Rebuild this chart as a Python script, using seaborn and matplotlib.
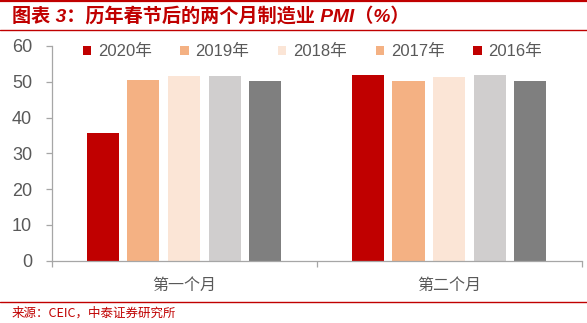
import matplotlib
matplotlib.use('Agg')
import matplotlib.pyplot as plt
import seaborn as sns
import pandas as pd
from matplotlib.patches import Patch
from matplotlib.lines import Line2D

# ---- data ----
months = ['第一个月', '第二个月']
years = ['2020年', '2019年', '2018年', '2017年', '2016年']
pmi_2020 = [35.7, 52.0]
pmi_2019 = [50.5, 50.1]
pmi_2018 = [51.5, 51.4]
pmi_2017 = [51.6, 51.8]
pmi_2016 = [50.2, 50.1]
yticks = [0, 10, 20, 30, 40, 50, 60]

bar_colors = ['#C00000', '#F4B183', '#FBE5D6', '#D0CECE', '#7F7F7F']
legend_colors = ['#C00000', '#F4B183', '#FBE5D6', '#F4B183', '#C00000']

series = [pmi_2020, pmi_2019, pmi_2018, pmi_2017, pmi_2016]
df = pd.DataFrame({
    '月份': [m for s in series for m in months],
    '年份': [y for y, s in zip(years, series) for _ in s],
    'PMI': [v for s in series for v in s],
})

sns.set_theme(style='white')
plt.rcParams['font.family'] = ['Liberation Sans', 'Noto Sans CJK SC']

W, H = 587, 323
fig = plt.figure(figsize=(W / 100, H / 100), dpi=100)
ax = fig.add_axes([51.5 / W, 1 - 260.5 / H, (581.7 - 51.5) / W, 214.5 / H])

sns.barplot(data=df, x='月份', y='PMI', hue='年份', order=months, hue_order=years,
            palette=bar_colors, width=0.766, gap=0.21, saturation=1,
            errorbar=None, linewidth=0, legend=False, ax=ax)

ax.set_xlim(-0.5, 1.5)
ax.set_ylim(0, 60)
ax.set_yticks(yticks)
ax.set_xlabel('')
ax.set_ylabel('')
for s in ['top', 'right']:
    ax.spines[s].set_visible(False)
for s in ['left', 'bottom']:
    ax.spines[s].set_color('#A6A6A6')
    ax.spines[s].set_linewidth(0.9)

ax.tick_params(axis='y', left=True, length=4.5, width=0.9, color='#A6A6A6', pad=9.5,
               labelsize=13, labelcolor='#595959')
ax.tick_params(axis='x', which='major', bottom=False, length=0, pad=12,
               labelsize=11.5, labelcolor='#595959')
ax.set_xticks([-0.5, 0.5, 1.5], minor=True)
ax.tick_params(axis='x', which='minor', bottom=True, length=4, width=0.9, color='#A6A6A6')
for lbl in ax.get_xticklabels():
    lbl.set_fontfamily(['Noto Sans CJK SC'])

handles = [Patch(facecolor=c, edgecolor='none') for c in legend_colors]
fig.legend(handles, years, loc='center left', bbox_to_anchor=(82.7 / W, 1 - 51.7 / H),
           ncol=5, frameon=False, fontsize=12, handlelength=0.5, handleheight=0.5,
           handletextpad=0.4, columnspacing=1.73, borderpad=0, borderaxespad=0,
           labelcolor='#595959')

red = '#C00000'
fig.add_artist(Line2D([0, 1], [1 - 1 / H, 1 - 1 / H], transform=fig.transFigure, color=red, lw=1.6))
fig.add_artist(Line2D([0, 1], [1 - 30 / H, 1 - 30 / H], transform=fig.transFigure, color=red, lw=1.0))
fig.add_artist(Line2D([0, 1], [1 - 301.7 / H, 1 - 301.7 / H], transform=fig.transFigure, color=red, lw=1.0))

fig.text(12 / W, 1 - 16.5 / H, '图表 3：历年春节后的两个月制造业 PMI（%）', color=red,
         fontsize=13.8, fontweight='bold', style='italic', va='center', ha='left',
         family=['Liberation Sans', 'Noto Sans CJK SC'])
fig.text(12 / W, 1 - 313 / H, '来源：CEIC，中泰证券研究所', color=red, fontsize=9,
         va='center', ha='left', family=['Noto Sans CJK SC'])

fig.savefig('out.png', dpi=100)
